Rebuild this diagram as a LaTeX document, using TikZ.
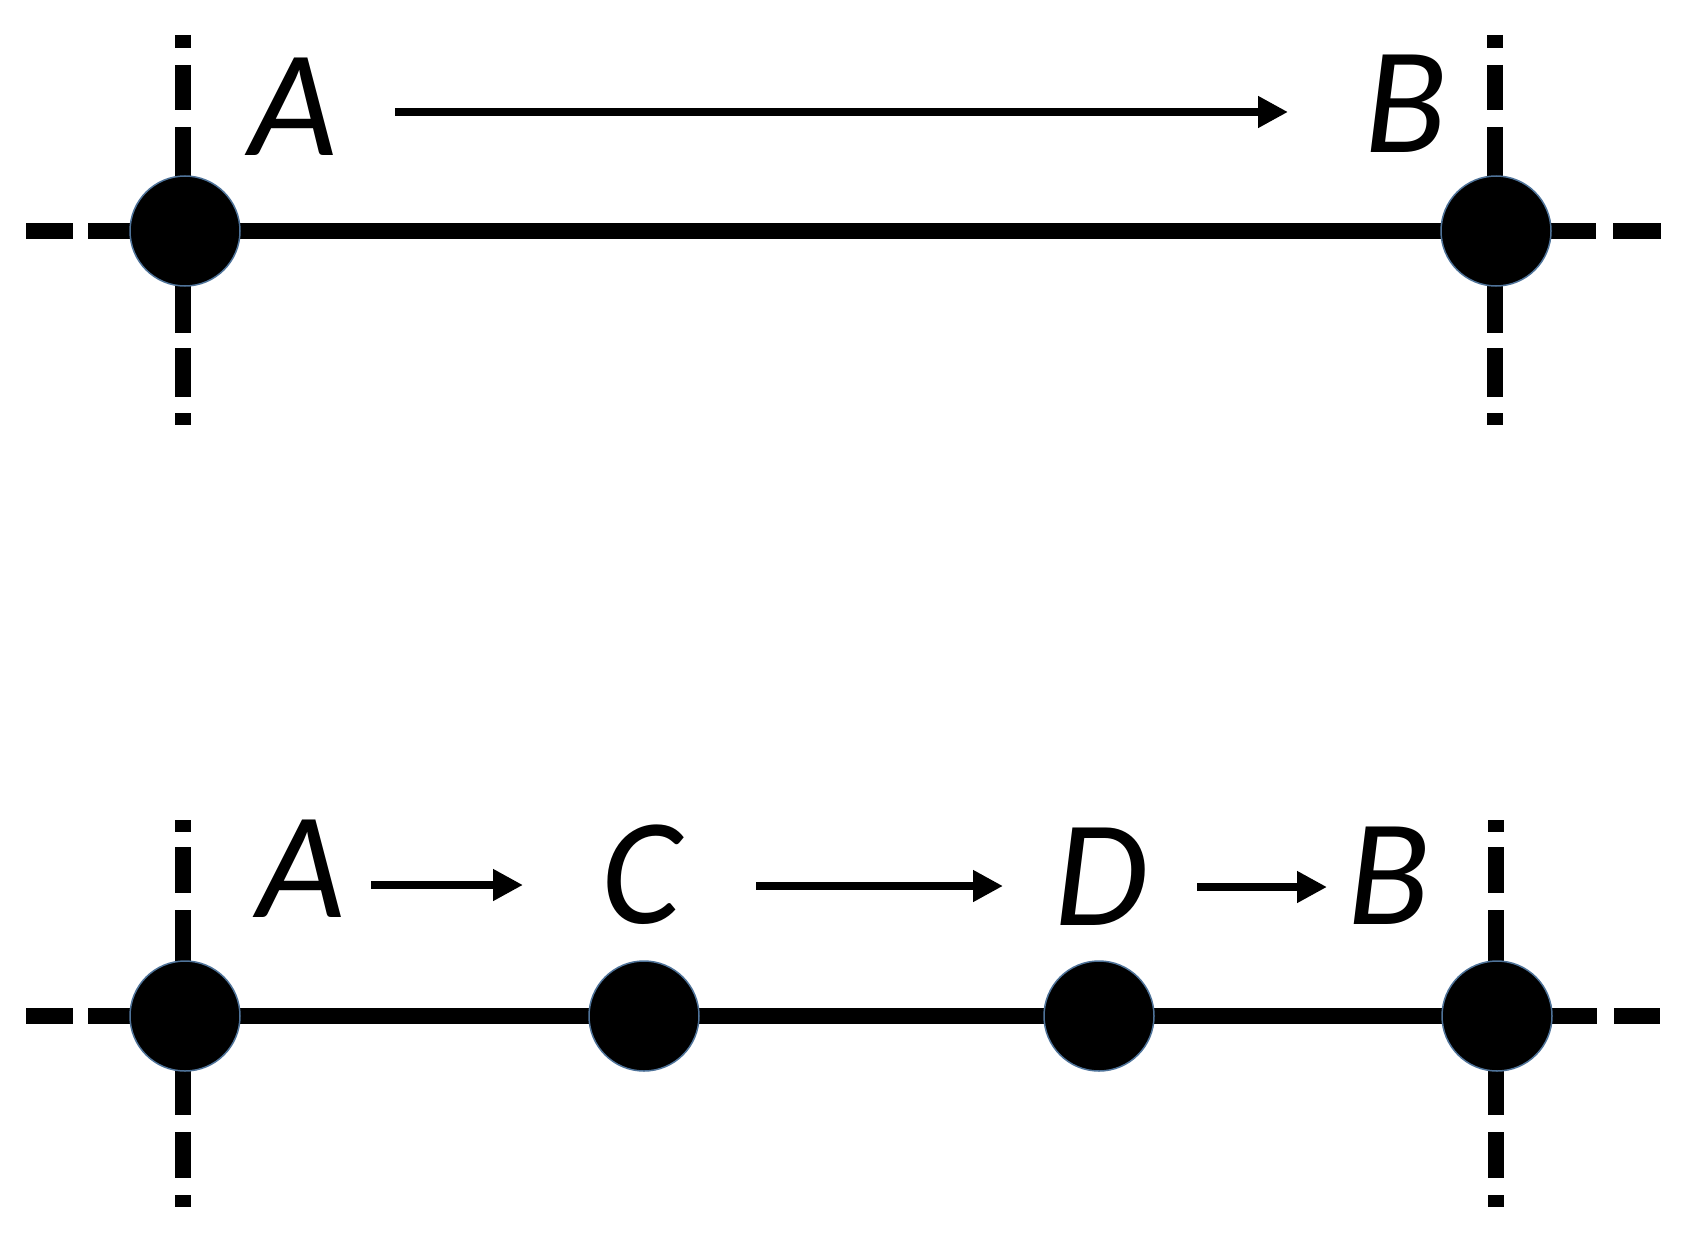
\documentclass[tikz,border=0pt]{standalone}
\usepackage{fontspec}
\setmainfont{Carlito}
\usetikzlibrary{arrows.meta}
\definecolor{rimblue}{HTML}{4F7399}
\tikzset{
  dot/.style={circle,fill=black,draw=rimblue,line width=1.5pt,minimum size=110pt,inner sep=0pt},
  mainline/.style={line width=16pt},
  dashseg/.style={line width=16pt,line cap=butt},
  arrowline/.style={line width=8pt,-{Triangle[length=30pt,width=30pt]}},
  lbl/.style={inner sep=0pt,anchor=base,font=\fontsize{152}{180}\selectfont\itshape}
}
\begin{document}
\begin{tikzpicture}[x=1pt,y=-1pt]
\useasboundingbox (0,0) rectangle (1688,1244);
% ---------- top row ----------
\coordinate (ctA) at (185,231);
\coordinate (ctB) at (1496,231);
\draw[mainline] (ctA) -- (ctB);
% dashed horizontals
\draw[dashseg] (26,231) -- (73,231);
\draw[dashseg] (88,231) -- (ctA);
\draw[dashseg] (ctB) -- (1596,231);
\draw[dashseg] (1613,231) -- (1661,231);
% dash-dot verticals
\foreach \x in {183,1495}{
  \draw[dashseg] (\x,35) -- (\x,48);
  \draw[dashseg] (\x,65) -- (\x,110);
  \draw[dashseg] (\x,127) -- (\x,200);
  \draw[dashseg] (\x,260) -- (\x,333);
  \draw[dashseg] (\x,348) -- (\x,397);
  \draw[dashseg] (\x,413) -- (\x,425);
}
\node[dot] (tA) at (ctA) {};
\node[dot] (tB) at (ctB) {};
\node[lbl] (ltA) at (293,155) {A};
\node[lbl] (ltB) at (1406,153) {B};
\coordinate (ta1) at (395,112);
\coordinate (ta2) at (1288,112);
\draw[arrowline] (ta1) -- (ta2);
% ---------- bottom row ----------
\coordinate (cbA) at (185,1016);
\coordinate (cbC) at (644,1016);
\coordinate (cbD) at (1099,1016);
\coordinate (cbB) at (1497,1016);
\draw[mainline] (cbA) -- (cbC) -- (cbD) -- (cbB);
\draw[dashseg] (26,1016) -- (73,1016);
\draw[dashseg] (88,1016) -- (cbA);
\draw[dashseg] (cbB) -- (1597,1016);
\draw[dashseg] (1614,1016) -- (1660,1016);
\foreach \x in {183,1496}{
  \draw[dashseg] (\x,820) -- (\x,832);
  \draw[dashseg] (\x,847) -- (\x,893);
  \draw[dashseg] (\x,910) -- (\x,980);
  \draw[dashseg] (\x,1050) -- (\x,1115);
  \draw[dashseg] (\x,1132) -- (\x,1178);
  \draw[dashseg] (\x,1195) -- (\x,1207);
}
\node[dot] (bA) at (cbA) {};
\node[dot] (bC) at (cbC) {};
\node[dot] (bD) at (cbD) {};
\node[dot] (bB) at (cbB) {};
\node[lbl] (lbA) at (301,917) {A};
\node[lbl] (lbC) at (641,923) {C};
\node[lbl] (lbD) at (1101,925) {D};
\node[lbl] (lbB) at (1389,924) {B};
\coordinate (a1) at (371,885);
\coordinate (a2) at (523,885);
\coordinate (a3) at (756,886);
\coordinate (a4) at (1003,886);
\coordinate (a5) at (1197,887);
\coordinate (a6) at (1327,887);
\draw[arrowline] (a1) -- (a2);
\draw[arrowline] (a3) -- (a4);
\draw[arrowline] (a5) -- (a6);
\end{tikzpicture}
\end{document}
